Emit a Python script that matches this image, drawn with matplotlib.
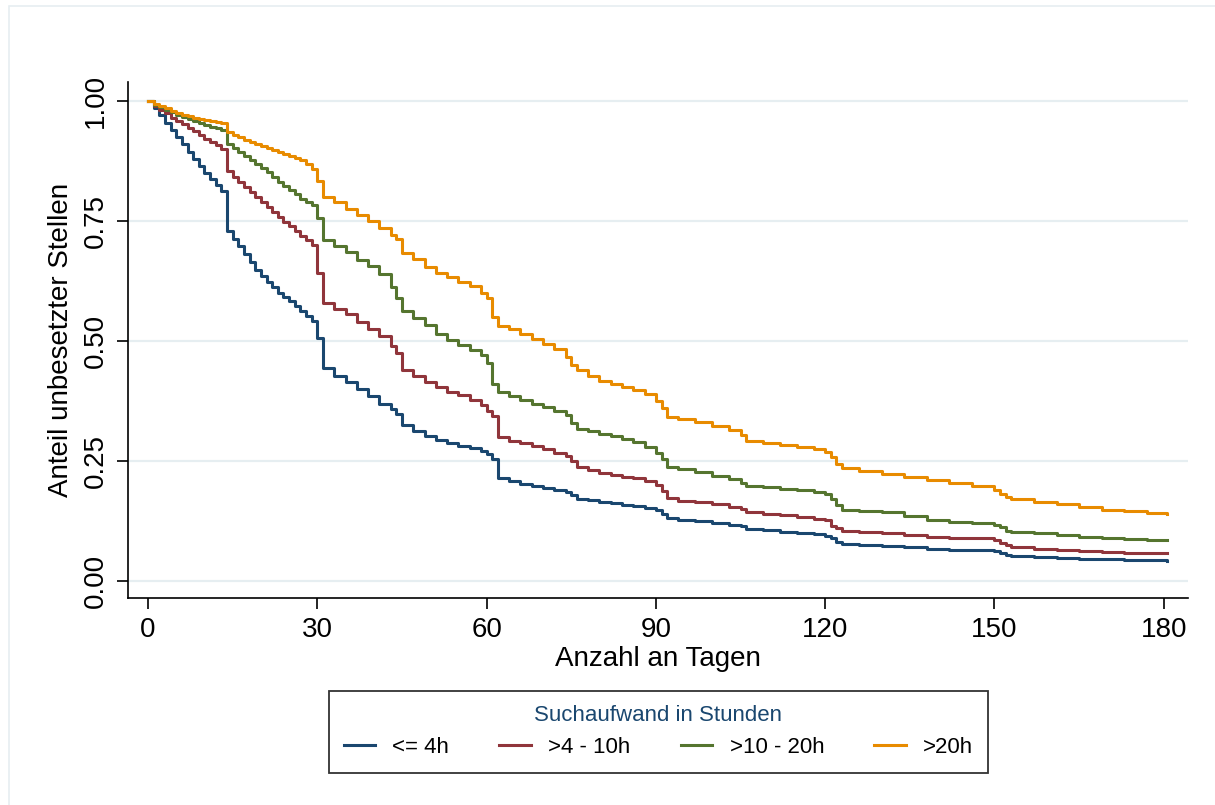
import matplotlib
matplotlib.use("Agg")
import matplotlib.pyplot as plt
from matplotlib.patches import Rectangle

plt.rcParams['font.family'] = ['Liberation Sans', 'DejaVu Sans']

# step times (days) shared by all groups
days = list(range(0, 32)) + [
    33, 35, 37, 39, 41, 43, 44, 45, 47, 49, 51, 53, 55, 57, 59, 60, 61, 62,
    64, 66, 68, 70, 72, 74, 75, 76, 78, 80, 82, 84, 86, 88, 90, 91, 92,
    94, 97, 100, 103, 105, 106, 109, 112, 115, 118, 120, 121, 122, 123,
    126, 130, 134, 138, 142, 146, 150, 151, 152, 153,
    157, 161, 165, 169, 173, 177, 180.6]

# share of unfilled vacancies per group
surv_le4 = [
    1.0, 0.985, 0.972, 0.955, 0.94, 0.925, 0.91, 0.895, 0.88, 0.865, 0.85,
    0.838, 0.826, 0.812, 0.73, 0.712, 0.698, 0.682, 0.665, 0.648, 0.636,
    0.624, 0.612, 0.60, 0.592, 0.584, 0.573, 0.562, 0.552, 0.543, 0.507, 0.445,
    0.428, 0.415, 0.40, 0.385, 0.37, 0.358, 0.348, 0.325, 0.313, 0.303, 0.295,
    0.288, 0.282, 0.277, 0.272, 0.265, 0.255, 0.214,
    0.208, 0.203, 0.198, 0.194, 0.19, 0.186, 0.18, 0.172, 0.169, 0.166, 0.162,
    0.159, 0.156, 0.153, 0.148, 0.14, 0.131,
    0.128, 0.125, 0.121, 0.118, 0.114, 0.109, 0.106, 0.102, 0.10, 0.098,
    0.095, 0.09, 0.082, 0.078,
    0.076, 0.074, 0.071, 0.068, 0.066, 0.064, 0.062, 0.058, 0.054, 0.052,
    0.05, 0.048, 0.047, 0.046, 0.045, 0.044, 0.043]

surv_4_10 = [
    1.0, 0.99, 0.982, 0.975, 0.966, 0.958, 0.952, 0.945, 0.938, 0.93, 0.922,
    0.915, 0.908, 0.90, 0.855, 0.842, 0.832, 0.822, 0.81, 0.80, 0.79,
    0.78, 0.77, 0.758, 0.748, 0.74, 0.73, 0.72, 0.71, 0.70, 0.643, 0.58,
    0.568, 0.556, 0.54, 0.525, 0.51, 0.49, 0.475, 0.44, 0.428, 0.416, 0.404,
    0.395, 0.388, 0.378, 0.368, 0.355, 0.345, 0.30,
    0.293, 0.287, 0.281, 0.275, 0.268, 0.26, 0.25, 0.237, 0.231, 0.226, 0.222,
    0.218, 0.214, 0.208, 0.20, 0.188, 0.173,
    0.168, 0.164, 0.16, 0.155, 0.15, 0.144, 0.14, 0.137, 0.134, 0.13,
    0.127, 0.115, 0.11, 0.105,
    0.103, 0.10, 0.097, 0.093, 0.091, 0.089, 0.086, 0.08, 0.075, 0.071,
    0.068, 0.066, 0.063, 0.06, 0.059, 0.058, 0.058]

surv_10_20 = [
    1.0, 0.993, 0.988, 0.982, 0.977, 0.972, 0.967, 0.963, 0.958, 0.955, 0.95,
    0.947, 0.944, 0.941, 0.91, 0.903, 0.895, 0.886, 0.878, 0.869, 0.86,
    0.852, 0.842, 0.832, 0.823, 0.815, 0.806, 0.797, 0.79, 0.784, 0.757, 0.71,
    0.698, 0.685, 0.67, 0.657, 0.64, 0.612, 0.59, 0.563, 0.548, 0.533, 0.515,
    0.503, 0.492, 0.482, 0.472, 0.455, 0.41, 0.395,
    0.385, 0.377, 0.37, 0.362, 0.355, 0.346, 0.33, 0.318, 0.312, 0.307, 0.302,
    0.296, 0.29, 0.28, 0.268, 0.255, 0.237,
    0.233, 0.228, 0.22, 0.212, 0.205, 0.199, 0.196, 0.193, 0.19, 0.186,
    0.182, 0.172, 0.158, 0.148,
    0.146, 0.144, 0.135, 0.127, 0.124, 0.121, 0.118, 0.112, 0.105, 0.102,
    0.10, 0.097, 0.093, 0.09, 0.088, 0.086, 0.085]

surv_gt20 = [
    1.0, 0.995, 0.99, 0.985, 0.98, 0.976, 0.972, 0.969, 0.966, 0.963, 0.96,
    0.958, 0.956, 0.955, 0.935, 0.93, 0.925, 0.92, 0.915, 0.91, 0.906,
    0.902, 0.898, 0.894, 0.89, 0.886, 0.882, 0.877, 0.87, 0.858, 0.834, 0.80,
    0.79, 0.775, 0.762, 0.75, 0.735, 0.722, 0.712, 0.684, 0.672, 0.655, 0.643,
    0.633, 0.624, 0.614, 0.60, 0.59, 0.55, 0.532,
    0.525, 0.515, 0.505, 0.495, 0.483, 0.468, 0.45, 0.44, 0.428, 0.418, 0.41,
    0.404, 0.398, 0.39, 0.375, 0.36, 0.342,
    0.337, 0.332, 0.323, 0.315, 0.305, 0.293, 0.288, 0.283, 0.279, 0.275,
    0.27, 0.258, 0.245, 0.235,
    0.23, 0.224, 0.218, 0.21, 0.204, 0.198, 0.19, 0.182, 0.176, 0.172,
    0.166, 0.16, 0.154, 0.149, 0.146, 0.143, 0.141]

groups = ['<= 4h', '>4 - 10h', '>10 - 20h', '>20h']
colors = ['#1a476f', '#90353b', '#55752f', '#e88b00']
x_ticks = [0, 30, 60, 90, 120, 150, 180]
y_ticks = [0.0, 0.25, 0.5, 0.75, 1.0]

W, H = 1215, 805
fig = plt.figure(figsize=(W / 100, H / 100), dpi=100)
fig.patches.append(Rectangle((9 / W, -0.01), 1.02, 1 - 6 / H + 0.01,
                             transform=fig.transFigure, fill=False,
                             edgecolor='#e6eef1', lw=1.2))

ax = fig.add_axes([128 / W, 1 - 598 / H, (1188 - 128) / W, (598 - 82) / H])

for surv, lab, col in zip([surv_le4, surv_4_10, surv_10_20, surv_gt20], groups, colors):
    ax.step(days, surv, where='post', color=col, lw=2.2, label=lab)

ax.set_xlim(-3.55, 184.3)
ax.set_ylim(-0.035, 1.04)
ax.set_xticks(x_ticks)
ax.set_yticks(y_ticks)
ax.set_yticklabels([f'{v:.2f}' for v in y_ticks], rotation=90, va='center')
ax.tick_params(axis='both', labelsize=20, length=8, width=1.2, color='black')
ax.tick_params(axis='y', pad=6)
ax.tick_params(axis='x', pad=6)
ax.grid(axis='y', color='#e6eef1', lw=1.6)
ax.set_axisbelow(True)
for s in ['top', 'right']:
    ax.spines[s].set_visible(False)
for s in ['left', 'bottom']:
    ax.spines[s].set_linewidth(1.2)

ax.set_xlabel('Anzahl an Tagen', fontsize=20, labelpad=2)
ax.set_ylabel('Anteil unbesetzter Stellen', fontsize=20, labelpad=6)

leg = fig.legend(loc='center', ncol=4, mode='expand',
                 bbox_to_anchor=(318 / W, 1 - 773 / H, 681 / W, 83 / H),
                 title='Suchaufwand in Stunden', fontsize=16,
                 title_fontsize=16, frameon=True, fancybox=False,
                 handlelength=1.4, handletextpad=0.8, borderpad=0.65)
leg.get_title().set_color('#1a476f')
leg.get_frame().set_edgecolor('black')
leg.get_frame().set_linewidth(1.3)

fig.savefig('out.png', dpi=100)
